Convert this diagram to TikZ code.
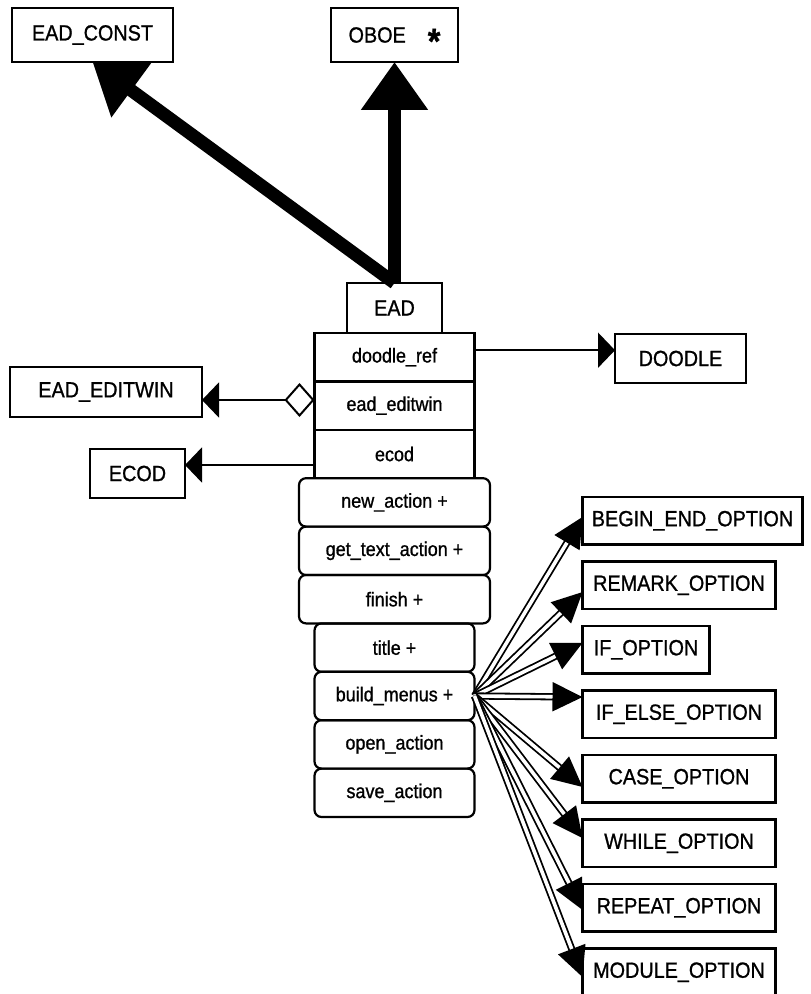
\documentclass[tikz,border=0pt]{standalone}
\usepackage{fontspec}
\setmainfont{Liberation Sans}[FakeStretch=0.9, FakeBold=1]
\usetikzlibrary{arrows.meta, positioning}
\tikzset{
  classbox/.style={
    draw,
    rectangle,
    line width=1.3pt,
    outer sep=0pt,
    minimum height=24.5pt,
    inner xsep=1pt,
    align=center,
    font=\fontsize{11}{13}\selectfont
  },
  optbox/.style={
    classbox,
    minimum width=96.5pt,
    minimum height=23.75pt
  },
  attrbox/.style={
    draw,
    rectangle,
    line width=1.1pt,
    outer sep=0pt,
    minimum height=24.2pt,
    minimum width=80pt,
    font=\fontsize{10}{12}\selectfont
  },
  opbox/.style={attrbox, rounded corners=3.5pt},
  genarrow/.style={
    -{Triangle[length=24pt,width=32pt]}, line width=6.5pt},
  assoc/.style={
    -{Triangle[length=8.5pt,width=17.5pt]}, line width=1pt},
  aggr/.style={
    {Diamond[open,length=15pt,width=17pt]}-{Triangle[length=8.5pt,width=17.5pt]},
    line width=1pt},
  menuarrow/.style={
    -{Triangle[length=15pt,width=14.5pt]}, line width=0.9pt,
    double, double distance=1.8pt}
}

\begin{document}
\begin{tikzpicture}[x=0.5pt, y=-0.5pt, node distance=0pt]
\useasboundingbox (0,0) rectangle (810,994);

\node[classbox, minimum width=80.5pt, minimum height=27pt] (eadconst) at (92.5,35) {EAD\_CONST};
\node[classbox, minimum width=63.5pt, minimum height=27pt] (oboe) at (394.5,35)
  {OBOE\hspace{11pt}\raisebox{-5.5pt}[0pt][0pt]{\fontsize{18}{18}\selectfont\bfseries *}};

\node[classbox, minimum width=47.5pt, minimum height=25pt] (ead) at (394.5,308) {EAD};
\node[attrbox, below=of ead] (dref) {doodle\_ref};
\node[attrbox, below=of dref] (ew) {ead\_editwin};
\node[attrbox, below=of ew] (ec) {ecod};
\node[opbox, minimum width=95.5pt, below=of ec] (na) {new\_action +};
\node[opbox, minimum width=95.5pt, below=of na] (gt) {get\_text\_action +};
\node[opbox, minimum width=95.5pt, below=of gt] (fi) {finish +};
\node[opbox, below=of fi] (ti) {title +};
\node[opbox, below=of ti] (bm) {build\_menus +};
\node[opbox, below=of bm] (oa) {open\_action};
\node[opbox, below=of oa] (sa) {save\_action};

\node[classbox, minimum width=65.5pt] (doodle) at (680.5,358.5) {DOODLE};
\node[classbox, minimum width=96pt, minimum height=25pt] (editwin) at (106,392) {EAD\_EDITWIN};
\node[classbox, minimum width=47.5pt] (ecodbox) at (137.5,473.5) {ECOD};

\node[optbox, minimum width=110pt, anchor=north west] (beo) at (582.5,497) {BEGIN\_END\_OPTION};
\node[optbox, below=8.5pt of beo.south west, anchor=north west] (rmo) {REMARK\_OPTION};
\node[optbox, minimum width=63.5pt, below=8.5pt of rmo.south west, anchor=north west] (ifo) {IF\_OPTION};
\node[optbox, below=8.5pt of ifo.south west, anchor=north west] (ieo) {IF\_ELSE\_OPTION};
\node[optbox, below=8.5pt of ieo.south west, anchor=north west] (cso) {CASE\_OPTION};
\node[optbox, below=8.5pt of cso.south west, anchor=north west] (who) {WHILE\_OPTION};
\node[optbox, below=8.5pt of who.south west, anchor=north west] (rpo) {REPEAT\_OPTION};
\node[optbox, below=8.5pt of rpo.south west, anchor=north west] (mdo) {MODULE\_OPTION};

\draw[genarrow] (ead.north) -- (eadconst.south);
\draw[genarrow] (ead.north) -- (oboe.south);

\draw[assoc] ([yshift=3.5pt]dref.east) -- ([yshift=3.5pt]dref.east -| doodle.west);
\draw[aggr] ([yshift=2.8pt]ew.west) -- ([yshift=2.8pt]ew.west -| editwin.east);
\draw[assoc] ([yshift=-5.5pt]ec.west) -- ([yshift=-5.5pt]ec.west -| ecodbox.east);

\foreach \opt/\dy in {beo/1.9, rmo/-3.4, ifo/3.4, ieo/8.6, cso/-4.1, who/2.6, rpo/-1.1, mdo/-2.4}
  \draw[menuarrow] (bm.east) -- ([yshift=\dy pt]\opt.west);
\end{tikzpicture}
\end{document}
